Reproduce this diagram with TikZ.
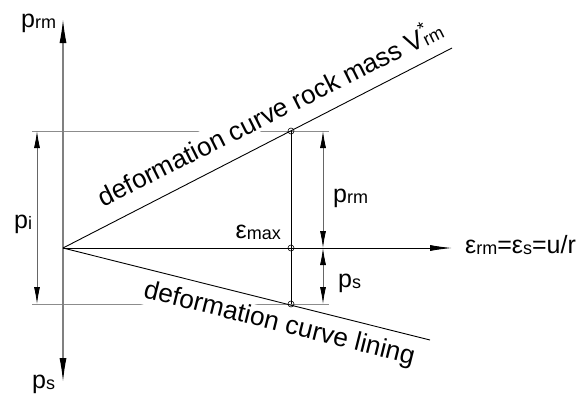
\documentclass[tikz,border=0pt]{standalone}
\usepackage{fontspec}
\setmainfont{Liberation Sans}
\usetikzlibrary{arrows.meta}
\newcommand\sbx[1]{\raisebox{-1pt}{\fontsize{18}{18}\selectfont #1}}
\tikzset{
  lbl/.style={font=\fontsize{25}{28}\selectfont, inner sep=0pt},
  curvetext/.style={font=\fontsize{26.2}{28}\selectfont, fill=white, inner sep=1.5pt},
  axis/.style={draw=black!50, line width=1.3pt},
  refline/.style={draw=black!45, line width=0.9pt},
  dimline/.style={draw=black!60, line width=0.8pt, {Latex[length=17pt,width=6pt,color=black]}-{Latex[length=17pt,width=6pt,color=black]}},
  curve/.style={draw=black, line width=0.9pt},
  pt/.style={circle, draw=black, line width=0.6pt, minimum size=6pt, inner sep=0pt}
}
\begin{document}
\begin{tikzpicture}[x=1pt,y=-1pt]
\useasboundingbox (0,0) rectangle (585,394);
% coordinates
\coordinate (O) at (63,248);
\coordinate (Ytop) at (63,19);
\coordinate (Ybot) at (63,382);
\coordinate (Xend) at (452,248);
\coordinate (U) at (452,48);
\coordinate (L) at (430,340);
\coordinate (A) at (291,131);
\coordinate (B) at (291,248);
\coordinate (C) at (291,304);
\coordinate (R1l) at (32,131);
\coordinate (R1r) at (329,131);
\coordinate (R2l) at (32,304);
\coordinate (R2r) at (329,304);
\coordinate (Pi1) at (37,131);
\coordinate (Pi2) at (37,304);
\coordinate (Pr1) at (323,131);
\coordinate (Pr2) at (323,248);
\coordinate (Ps2) at (323,304);
% reference lines
\draw[refline] (R1l) -- (R1r);
\draw[refline] (R2l) -- (R2r);
% curve texts (white background interrupts the reference lines)
\node[curvetext, rotate=26.6, anchor=base west] (tup) at (102,208)
  {deformation curve rock mass V\rlap{\raisebox{11pt}{\fontsize{18}{18}\selectfont *}}\sbx{rm}};
\node[curvetext, rotate=-14, anchor=base west] (tlow) at (141,297)
  {deformation curve lining};
% axes
\draw[axis, -{Latex[length=24pt,width=7pt,color=black]}] (O) -- (Ytop);
\draw[axis, -{Latex[length=24pt,width=7pt,color=black]}] (O) -- (Ybot);
\draw[curve, -{Latex[length=22pt,width=6pt]}] (O) -- (Xend);
% deformation curves
\draw[curve] (O) -- (U);
\draw[curve] (O) -- (L);
% vertical at eps max
\draw[curve] (A) -- (C);
\node[pt] (pA) at (A) {};
\node[pt] (pB) at (B) {};
\node[pt] (pC) at (C) {};
% dimensions
\draw[dimline] (Pi1) -- (Pi2);
\draw[dimline] (Pr1) -- (Pr2);
\draw[dimline] (Pr2) -- (Ps2);
% labels
\node[lbl, anchor=base west] (lprm) at (21,27) {p\sbx{rm}};
\node[lbl, anchor=base west] (lps) at (32,388) {p\sbx{s}};
\node[lbl, anchor=base west] (lpi) at (14,228) {p\sbx{i}};
\node[lbl, anchor=base west] (lprm2) at (333,202) {p\sbx{rm}};
\node[lbl, anchor=base west] (lps2) at (338,287) {p\sbx{s}};
\node[lbl, anchor=base east] (lemax) at (281,238) {ε\sbx{max}};
\node[lbl, anchor=base west] (leps) at (465,253) {ε\sbx{rm}=ε\sbx{s}=u/r};
\end{tikzpicture}
\end{document}
